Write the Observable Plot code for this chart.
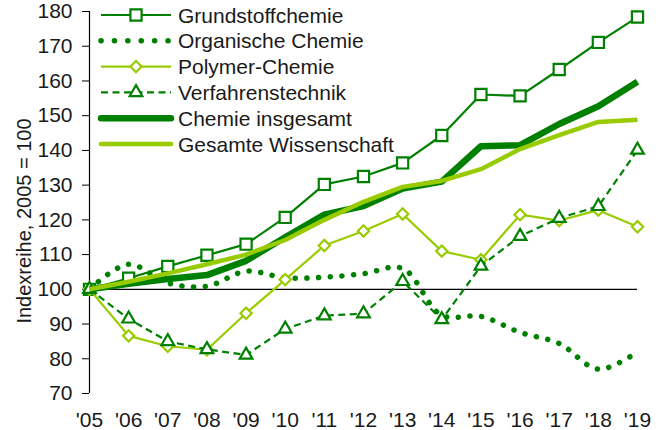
<!DOCTYPE html>
<html>
<head>
<meta charset="utf-8">
<script src="https://cdn.jsdelivr.net/npm/d3@7"></script>
<script src="https://cdn.jsdelivr.net/npm/@observablehq/plot@0.6"></script>
<style>
  body { margin: 0; background: #fff; }
  #chart { position: relative; width: 667px; height: 430px; }
  #legend { position: absolute; left: 0; top: 0; }
</style>
</head>
<body>
<div id="chart"></div>
<script>
const years = [2005, 2006, 2007, 2008, 2009, 2010, 2011, 2012, 2013, 2014, 2015, 2016, 2017, 2018, 2019];
const yTicks = [70, 80, 90, 100, 110, 120, 130, 140, 150, 160, 170, 180];

const grundstoff   = [100, 103.2, 106.6, 109.8, 113.0, 120.7, 130.2, 132.5, 136.4, 144.3, 156.1, 155.7, 163.3, 171.1, 178.4];
const organische   = [100, 107.2, 101.8, 100.9, 105.2, 103.3, 103.5, 104.5, 106.0, 92.5, 92.2, 87.6, 84.4, 77.0, 82.0];
const polymer      = [100, 86.6, 83.6, 82.6, 93.1, 102.8, 112.6, 116.8, 121.7, 111.0, 108.5, 121.5, 119.8, 122.8, 118.0];
const verfahren    = [100, 91.5, 85.0, 82.7, 81.1, 88.6, 92.4, 93.0, 102.3, 91.3, 106.7, 115.3, 120.5, 123.9, 140.1];
const chemieGesamt = [100, 101.6, 103.0, 104.1, 108.2, 115.0, 121.5, 124.0, 129.0, 131.0, 141.2, 141.5, 147.6, 152.7, 159.8];
const wissenschaft = [100, 102.2, 104.6, 107.2, 110.0, 114.2, 120.0, 125.2, 129.5, 131.2, 134.6, 140.4, 144.4, 148.2, 148.8];

const seriesNames = ["Grundstoffchemie", "Organische Chemie", "Polymer-Chemie", "Verfahrenstechnik", "Chemie insgesamt", "Gesamte Wissenschaft"];
const seriesValues = [grundstoff, organische, polymer, verfahren, chemieGesamt, wissenschaft];

const dark = "#008000";
const light = "#99cc00";
const font = "'Liberation Sans', Arial, sans-serif";

const styles = {
  "Grundstoffchemie":     {stroke: dark,  strokeWidth: 2.2, symbol: "square",   r: 6.3},
  "Organische Chemie":    {stroke: dark,  strokeWidth: 5.5, dash: "0.1,11.6", cap: "round", curve: "catmull-rom"},
  "Polymer-Chemie":       {stroke: light, strokeWidth: 2.2, symbol: "diamond2", r: 5.1},
  "Verfahrenstechnik":    {stroke: dark,  strokeWidth: 2.2, dash: "7,4.5", symbol: "triangle", r: 4.7},
  "Chemie insgesamt":     {stroke: dark,  strokeWidth: 6.5},
  "Gesamte Wissenschaft": {stroke: light, strokeWidth: 4.5}
};

const table = seriesNames.map((name, i) => years.map((y, j) => ({series: name, year: y, value: seriesValues[i][j]})));

const lineMarks = [];
seriesNames.forEach((name, i) => {
  const s = styles[name];
  lineMarks.push(Plot.line(table[i], {
    x: "year", y: "value",
    stroke: s.stroke, strokeWidth: s.strokeWidth,
    strokeDasharray: s.dash, strokeLinecap: s.cap || "butt", strokeLinejoin: "round",
    curve: s.curve || "linear"
  }));
  if (s.symbol) {
    lineMarks.push(Plot.dot(table[i], {
      x: "year", y: "value", symbol: () => s.symbol, r: s.r,
      stroke: s.stroke, strokeWidth: 2.2, fill: "white"
    }));
  }
});

const plot = Plot.plot({
  width: 667,
  height: 430,
  marginLeft: 89,
  marginRight: 30,
  marginTop: 11,
  marginBottom: 37,
  style: {fontFamily: font, fontSize: "21px", color: "#1a1a1a", background: "white"},
  x: {domain: [2005, 2019]},
  y: {domain: [70, 180]},
  marks: [
    Plot.ruleY([100], {stroke: "black", strokeWidth: 1.2}),
    Plot.ruleX([2005], {y1: 70, y2: 180, stroke: "black", strokeWidth: 1.2}),
    Plot.axisY({ticks: yTicks, tickSize: 7, tickPadding: 10, label: null, stroke: "black"}),
    Plot.axisX({ticks: years, tickFormat: d => "'" + String(d).slice(2), tickSize: 0, tickPadding: 19, label: null}),
    ...lineMarks
  ]
});

document.getElementById("chart").appendChild(plot);

// y-axis title
d3.select(plot).append("text")
  .attr("transform", "translate(24,221) rotate(-90)")
  .attr("text-anchor", "middle")
  .attr("dominant-baseline", "central")
  .attr("fill", "#1a1a1a")
  .style("font-family", font)
  .style("font-size", "20px")
  .text("Indexreihe, 2005 = 100");

// legend
const legend = d3.select("#chart").append("svg")
  .attr("id", "legend")
  .attr("width", 667).attr("height", 430)
  .style("pointer-events", "none");
const symbolPath = {
  "square": d3.symbol(d3.symbolSquare),
  "diamond2": d3.symbol(d3.symbolDiamond2),
  "triangle": d3.symbol(d3.symbolTriangle)
};
seriesNames.forEach((name, i) => {
  const s = styles[name];
  const cy = 15 + i * 25.8;
  const g = legend.append("g").attr("transform", `translate(0,${cy})`);
  g.append("line")
    .attr("x1", 101).attr("x2", 171).attr("y1", 0).attr("y2", 0)
    .attr("stroke", s.stroke).attr("stroke-width", s.strokeWidth)
    .attr("stroke-dasharray", s.dash ? (name === "Organische Chemie" ? "0.1,13.3" : s.dash) : null)
    .attr("stroke-linecap", s.cap || (s.strokeWidth > 4 ? "round" : "butt"));
  if (s.symbol) {
    const size = Math.PI * s.r * s.r;
    g.append("path")
      .attr("transform", "translate(136,0)")
      .attr("d", symbolPath[s.symbol].size(size)())
      .attr("stroke", s.stroke).attr("stroke-width", 2.2).attr("fill", "white");
  }
  g.append("text")
    .attr("x", 178).attr("y", 0)
    .attr("dominant-baseline", "central")
    .attr("fill", "#1a1a1a")
    .style("font-family", font)
    .style("font-size", "21px")
    .text(name);
});
</script>
</body>
</html>
